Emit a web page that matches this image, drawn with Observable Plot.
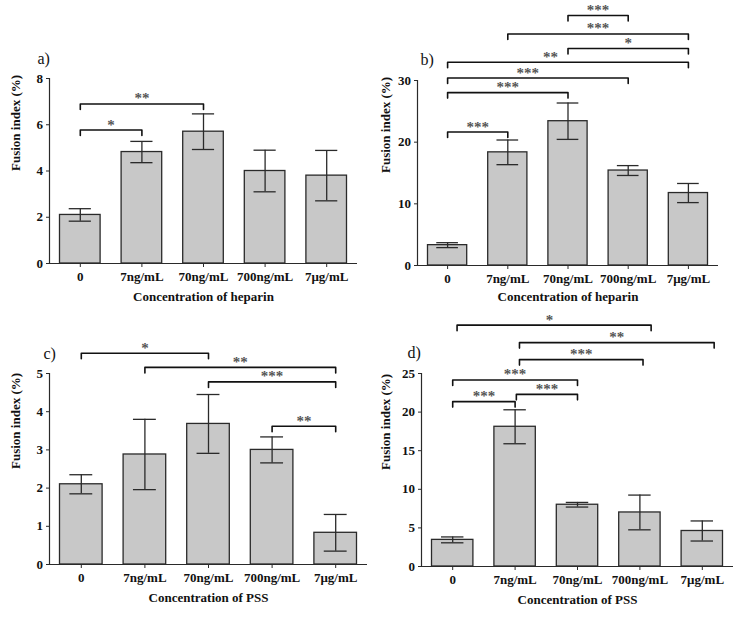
<!DOCTYPE html>
<html>
<head>
<meta charset="utf-8">
<script src="https://cdn.jsdelivr.net/npm/d3@7"></script>
<script src="https://cdn.jsdelivr.net/npm/@observablehq/plot@0.6"></script>
<style>
  html, body { margin: 0; padding: 0; background: #fff; }
  #root { position: relative; width: 750px; height: 621px; background: #fff; overflow: hidden; }
  .panel { position: absolute; }
</style>
</head>
<body>
<div id="root"></div>
<script>
// ---- data ----
const categories = ["0", "7ng/mL", "70ng/mL", "700ng/mL", "7\u03bcg/mL"];

const heparinA = [2.1, 4.82, 5.7, 4.0, 3.8];
const heparinAErr = [0.27, 0.46, 0.77, 0.9, 1.09];

const heparinB = [3.3, 18.35, 23.4, 15.4, 11.75];
const heparinBErr = [0.4, 2.0, 2.95, 0.8, 1.55];

const pssC = [2.1, 2.88, 3.68, 3.0, 0.83];
const pssCErr = [0.25, 0.92, 0.77, 0.34, 0.48];

const pssD = [3.45, 18.1, 8.0, 7.0, 4.6];
const pssDErr = [0.38, 2.2, 0.3, 2.25, 1.3];

// significance brackets: [from, to, level, label, (optional label position)]
const bracketsA = [[0, 1, 5.77, "*"], [0, 2, 6.9, "**"]];
const bracketsB = [
  [0, 1, 21.64, "***"], [0, 2, 28.04, "***"], [0, 3, 30.4, "***", 1.33],
  [0, 4, 32.95, "**", 1.71], [2, 4, 35.18, "*"], [1, 4, 37.55, "***"], [2, 3, 40.54, "***"]
];
const bracketsC = [[0, 2, 5.53, "*"], [1, 4, 5.16, "**"], [2, 4, 4.78, "***"], [3, 4, 3.62, "**"]];
const bracketsD = [
  [0, 1, 21.36, "***"], [1.02, 2, 22.3, "***"], [0, 2, 24.16, "***"],
  [1.07, 3.05, 26.8, "***"], [1.07, 4.19, 29.0, "**"], [0.07, 3.18, 31.26, "*", 1.55]
];

const yTicksA = [0, 2, 4, 6, 8];
const yTicksB = [0, 10, 20, 30];
const yTicksC = [0, 1, 2, 3, 4, 5];
const yTicksD = [0, 5, 10, 15, 20, 25];

// ---- drawing ----
const FONT = "'Liberation Serif', 'Times New Roman', serif";

function panel(cfg, means, errs, brackets, yTicks) {
  const rows = means.map((m, i) => ({i, m, lo: m - errs[i], hi: m + errs[i]}));
  const yMax = yTicks[yTicks.length - 1];
  const plotH = cfg.height - cfg.mTop - cfg.mBottom;
  const tk = yMax * 5.5 / plotH;
  const bpts = brackets.flatMap(([a, b, lv], k) => [
    {k, x: a, y: lv - tk}, {k, x: a, y: lv}, {k, x: b, y: lv}, {k, x: b, y: lv - tk}
  ]);
  const blabels = brackets.map(([a, b, lv, lab, lx]) => ({x: lx ?? (a + b) / 2, y: lv, lab}));
  const capHalf = 0.18;
  const ink = "#2a2a2a";
  const svg = Plot.plot({
    width: cfg.width,
    height: cfg.height,
    marginLeft: cfg.mLeft,
    marginRight: cfg.mRight,
    marginTop: cfg.mTop,
    marginBottom: cfg.mBottom,
    x: {type: "linear", domain: [-0.5, 4.5]},
    y: {domain: [0, yMax]},
    style: {fontFamily: FONT, fontSize: "13px", color: "#111", background: "transparent", overflow: "visible"},
    marks: [
      Plot.rectY(rows, {x1: d => d.i - 0.5, x2: d => d.i + 0.5, y: "m", insetLeft: 10.5, insetRight: 10.5,
        fill: "#c8c8c8", stroke: ink, strokeWidth: 1.3}),
      Plot.ruleX(rows, {x: "i", y1: "lo", y2: "hi", stroke: ink, strokeWidth: 1.3}),
      Plot.ruleY(rows, {y: "hi", x1: d => d.i - capHalf, x2: d => d.i + capHalf, stroke: ink, strokeWidth: 1.3}),
      Plot.ruleY(rows, {y: "lo", x1: d => d.i - capHalf, x2: d => d.i + capHalf, stroke: ink, strokeWidth: 1.3}),
      Plot.ruleY([0], {stroke: ink, strokeWidth: 1.2}),
      Plot.ruleX([-0.5], {y1: 0, y2: yMax, stroke: ink, strokeWidth: 1.2}),
      Plot.line(bpts, {x: "x", y: "y", z: "k", stroke: "#111", strokeWidth: 1.6}),
      Plot.text(blabels, {x: "x", y: "y", text: "lab", lineAnchor: "bottom", dy: -0.5, fill: "#555",
        fontSize: 15, fontWeight: "bold"}),
      Plot.axisX({ticks: [0, 1, 2, 3, 4], tickFormat: i => categories[i], tickSize: 4, tickPadding: 4,
        fontWeight: "bold", fontSize: 13, label: null, stroke: ink}),
      Plot.axisY({ticks: yTicks, tickFormat: v => v.toString(), tickSize: 3, tickPadding: 3.5,
        fontWeight: "bold", fontSize: 13, label: null, stroke: ink}),
      Plot.text([cfg.xTitle], {frameAnchor: "bottom", dy: cfg.xTitleDy, lineAnchor: "middle",
        fontWeight: "bold", fontSize: 13, fill: "#111"}),
      Plot.text(["Fusion index (%)"], {frameAnchor: "left", dx: cfg.yTitleDx, rotate: -90, lineAnchor: "middle",
        fontWeight: "bold", fontSize: 13, fill: "#111"}),
      Plot.text([cfg.tag], {frameAnchor: "top-left", dx: cfg.tagDx, dy: cfg.tagDy, textAnchor: "start",
        lineAnchor: "bottom", fontSize: 16, fill: "#111"})
    ]
  });
  const div = document.createElement("div");
  div.className = "panel";
  div.style.left = cfg.left + "px";
  div.style.top = cfg.top + "px";
  div.appendChild(svg);
  document.getElementById("root").appendChild(div);
}

panel({left: 0, top: 0, width: 375, height: 310, mLeft: 49, mRight: 18, mTop: 78, mBottom: 47,
  xTitle: "Concentration of heparin", xTitleDy: 33.7, yTitleDx: -34, tag: "a)", tagDx: -12, tagDy: -14.5},
  heparinA, heparinAErr, bracketsA, yTicksA);

panel({left: 375, top: 0, width: 375, height: 310, mLeft: 42, mRight: 32, mTop: 80, mBottom: 45,
  xTitle: "Concentration of heparin", xTitleDy: 31.7, yTitleDx: -32, tag: "b)", tagDx: 3, tagDy: -16},
  heparinB, heparinBErr, bracketsB, yTicksB);

panel({left: 0, top: 310, width: 375, height: 311, mLeft: 49, mRight: 8, mTop: 63, mBottom: 57,
  xTitle: "Concentration of PSS", xTitleDy: 33.3, yTitleDx: -34, tag: "c)", tagDx: -6, tagDy: -15},
  pssC, pssCErr, bracketsC, yTicksC);

panel({left: 375, top: 310, width: 375, height: 311, mLeft: 46, mRight: 17, mTop: 63, mBottom: 55,
  xTitle: "Concentration of PSS", xTitleDy: 33.3, yTitleDx: -36, tag: "d)", tagDx: -14, tagDy: -16},
  pssD, pssDErr, bracketsD, yTicksD);
</script>
</body>
</html>
